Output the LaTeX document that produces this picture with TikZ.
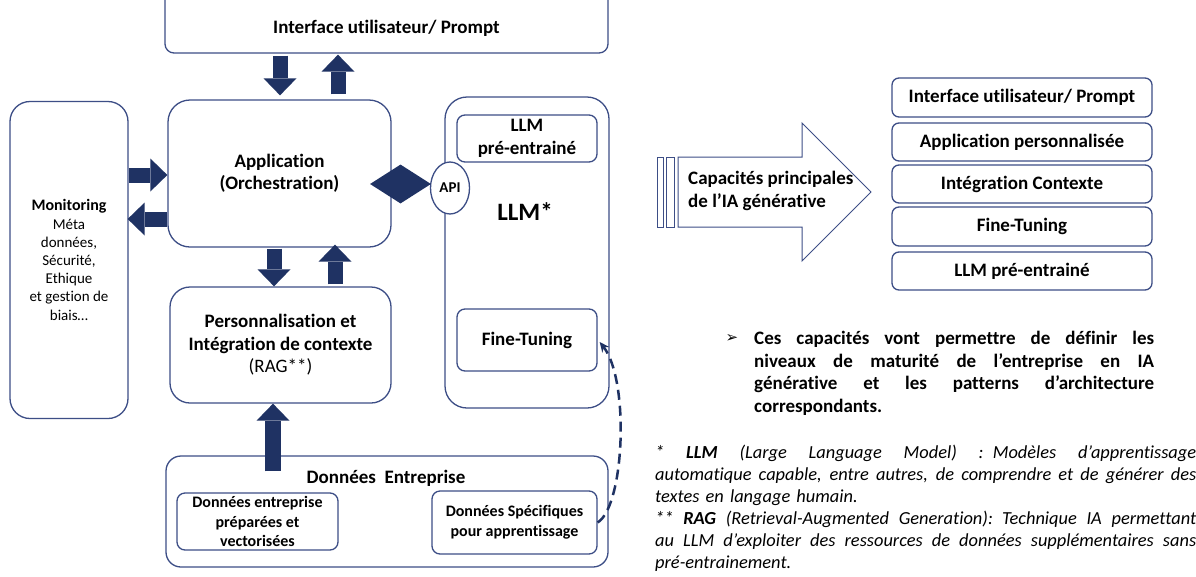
\documentclass[tikz,border=0pt]{standalone}
\usepackage{fontspec}
\setmainfont{Carlito}[Ligatures={TeX,NoCommon}]
\newfontfamily\dejavu{DejaVu Sans}
\usetikzlibrary{arrows.meta,shapes.geometric,calc}
\definecolor{bline}{HTML}{3D4E86}
\definecolor{navy}{HTML}{1F3263}
\newcommand{\fsz}[2]{\fontsize{#1}{#2}\selectfont}
\newcommand{\jline}[2]{\makebox[#1][s]{\spaceskip=0.22em plus 2em\relax #2}}
\begin{document}
\begin{tikzpicture}[x=1pt,y=-1pt,
  bx/.style={draw=bline, line width=1.3pt, fill=white, inner sep=0pt, align=center},
  tb/.style={font=\fsz{19}{22.5}\bfseries, align=center},
  blk/.style={draw=navy, line width=15pt, -{Triangle[length=17pt,width=33pt,line width=0pt]}},
  bigar/.style={draw=bline, line width=1pt, fill=white},
]
\useasboundingbox (0,0) rectangle (1196,576);
\fill[white] (0,0) rectangle (1196,576);

% top interface box (top cut by the page)
\node[bx, rounded corners=9pt, minimum width=443pt, minimum height=73pt] (ui) at (386.5,16.5) {};
\node[tb] (uit) at (386.5,28) {Interface utilisateur/ Prompt};

% monitoring
\node[bx, rounded corners=20pt, minimum width=118pt, minimum height=317pt, font=\fsz{15}{18.2}] (mon) at (69,260) {{\bfseries\fsz{16}{18.2}Monitoring}\\Méta\\données,\\Sécurité,\\Ethique\\et gestion de\\biais…};

% application
\node[bx, rounded corners=22pt, minimum width=223pt, minimum height=147pt, tb] (app) at (279.5,173.5) {Application\\(Orchestration)};

% personnalisation
\node[bx, rounded corners=20pt, minimum width=221pt, minimum height=116pt, tb] (pers) at (280.5,345) {Personnalisation et\\Intégration de contexte\\{\mdseries (RAG**)}};

% LLM block
\node[bx, rounded corners=22pt, minimum width=164pt, minimum height=311pt] (llm) at (527,252.5) {};
\node[bx, rounded corners=8pt, minimum width=140pt, minimum height=47pt, tb] (pre) at (527,138.5) {LLM\\pré-entrainé};
\node[font=\fsz{25}{28}\bfseries] (llmt) at (525,212) {LLM*};
\node[bx, rounded corners=8pt, minimum width=140pt, minimum height=62pt, tb] (ft) at (527,340) {Fine-Tuning};
\node[bx, ellipse, minimum width=39pt, minimum height=52pt, font=\fsz{15}{18}\bfseries] (api) at (450,188) {API};
\node[diamond, fill=navy, minimum width=61pt, minimum height=39pt, inner sep=0pt] (dia) at (400.5,184) {};

% data
\node[bx, rounded corners=15pt, minimum width=442pt, minimum height=111pt] (data) at (387,511.5) {};
\node[tb] (datat) at (386,478) {Données\ \ Entreprise};
\node[bx, rounded corners=8pt, minimum width=161pt, minimum height=57pt, font=\fsz{16}{19.5}\bfseries] (d1) at (257.5,521.5) {Données entreprise\\préparées et\\vectorisées};
\node[bx, rounded corners=8pt, minimum width=165pt, minimum height=63pt, font=\fsz{16}{20}\bfseries] (d2) at (514.5,522.5) {Données Spécifiques\\pour apprentissage};

% block arrows
\draw[blk] ($(ui.south)+(-106.5,2)$) -- ($(app.north)+(0.5,-4)$);
\draw[blk] ($(app.north)+(58.5,-5)$) -- ($(ui.south)+(-48.5,1)$);
\draw[blk] ($(mon.east)+(0,-85)$) -- ($(app.west)+(0,1.5)$);
\draw[blk] ($(app.west)+(0,45.5)$) -- ($(mon.east)+(-1,-41)$);
\draw[blk] ($(app.south)+(-5.5,1)$) -- ($(pers.north)+(-6.5,0)$);
\draw[blk] ($(pers.north)+(54.5,-2)$) -- ($(app.south)+(55.5,-3)$);
\draw[blk, line width=16pt] ($(data.north)+(-114,16)$) -- ($(pers.south)+(-7.5,0)$);

% dashed link
\draw[navy, line width=2.5pt, dash pattern=on 10pt off 6pt, -{Stealth[length=10pt,width=9pt]}] (d2.east) .. controls ($(d2.east)+(27,-17)$) and ($(ft.east)+(32,40)$) .. ($(ft.east)+(2,2)$);

% big arrow
\draw[bigar] (657,157) rectangle (663,227);
\draw[bigar] (666,157) rectangle (674,227);
\draw[bigar] (678,157) -- (802,157) -- (802,123) -- (871,192) -- (802,261) -- (802,227) -- (678,227) -- cycle;
\node[tb, align=left, anchor=west, inner sep=0pt] (cap) at (688,191) {Capacités principales\\de l’IA générative};

% stack
\node[bx, rounded corners=7pt, minimum width=260pt, minimum height=39pt, tb] (s1) at (1022,97.5) {Interface utilisateur/ Prompt};
\node[bx, rounded corners=7pt, minimum width=260pt, minimum height=38pt, tb] (s2) at (1022,142) {Application personnalisée};
\node[bx, rounded corners=7pt, minimum width=260pt, minimum height=38pt, tb] (s3) at (1022,184) {Intégration Contexte};
\node[bx, rounded corners=7pt, minimum width=260pt, minimum height=39pt, tb] (s4) at (1022,226.5) {Fine-Tuning};
\node[bx, rounded corners=7pt, minimum width=260pt, minimum height=38pt, tb] (s5) at (1022,271) {LLM pré-entrainé};

% paragraph
\node[font=\dejavu\fsz{15}{17}] (bul) at (732,338) {➢};
\node[anchor=north west, inner sep=0pt, text width=400pt, font=\fsz{19}{22.7}\bfseries, align=left] (para) at (754,331) {%
\jline{400pt}{Ces capacités vont permettre de définir les}\\
\jline{400pt}{niveaux de maturité de l’entreprise en IA}\\
\jline{400pt}{générative et les patterns d’architecture}\\
correspondants.};

% footnotes
\node[anchor=north west, inner sep=0pt, text width=541pt, font=\fsz{18.4}{22}\itshape, align=left] (fn) at (655,445) {%
\jline{541pt}{* \textbf{LLM} (Large Language Model) : Modèles d\symbol{39}apprentissage}\\
\jline{541pt}{automatique capable, entre autres, de comprendre et de générer des}\\
textes en langage humain.\\
\jline{541pt}{** \textbf{RAG} (Retrieval-Augmented Generation): Technique IA permettant}\\
\jline{541pt}{au LLM d’exploiter des ressources de données supplémentaires sans}\\
pré-entrainement.};
\end{tikzpicture}
\end{document}
